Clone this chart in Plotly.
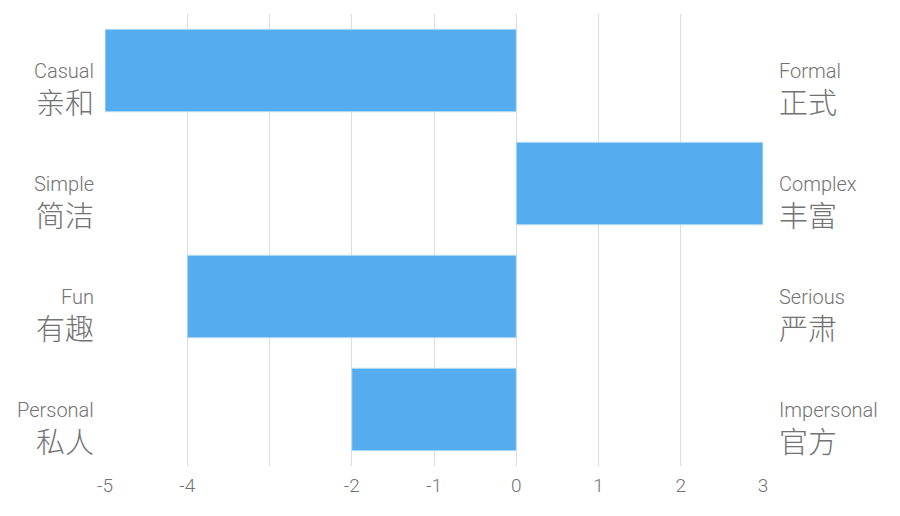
import plotly.graph_objects as go

categories = ["Casual", "Simple", "Fun", "Personal"]
left_en = ["Casual", "Simple", "Fun", "Personal"]
left_zh = ["亲和", "简洁", "有趣", "私人"]
right_en = ["Formal", "Complex", "Serious", "Impersonal"]
right_zh = ["正式", "丰富", "严肃", "官方"]
values = [-5, 3, -4, -2]
tick_vals = [-5, -4, -3, -2, -1, 0, 1, 2, 3]
tick_text = ["-5", "-4", "", "-2", "-1", "0", "1", "2", "3"]

FONT = "Roboto, 'Noto Sans CJK SC', sans-serif"
GREY = "#737373"

fig = go.Figure(go.Bar(
    x=values, y=categories, orientation="h",
    marker=dict(color="#55acee", line=dict(color="rgba(190,225,250,0.9)", width=1)),
    hoverinfo="skip",
))

ann = []
for i, c in enumerate(categories):
    ann.append(dict(x=0, xref="paper", y=c, yref="y", text=left_en[i], showarrow=False,
                    xanchor="right", yanchor="middle", xshift=-9,
                    font=dict(family=FONT, size=20, color=GREY, weight=300)))
    ann.append(dict(x=0, xref="paper", y=c, yref="y", text=left_zh[i], showarrow=False,
                    xanchor="right", yanchor="middle", xshift=-9, yshift=-33,
                    font=dict(family=FONT, size=29, color=GREY, weight=300)))
    ann.append(dict(x=1, xref="paper", y=c, yref="y", text=right_en[i], showarrow=False,
                    xanchor="left", yanchor="middle", xshift=14,
                    font=dict(family=FONT, size=20, color=GREY, weight=300)))
    ann.append(dict(x=1, xref="paper", y=c, yref="y", text=right_zh[i], showarrow=False,
                    xanchor="left", yanchor="middle", xshift=14, yshift=-33,
                    font=dict(family=FONT, size=29, color=GREY, weight=300)))

fig.update_layout(
    width=900, height=516,
    margin=dict(l=97, r=145, t=6, b=58),
    paper_bgcolor="white", plot_bgcolor="white",
    bargap=0.27,
    showlegend=False,
    annotations=ann,
    font=dict(family=FONT, color=GREY),
    xaxis=dict(range=[-5, 3], tickvals=tick_vals, ticktext=tick_text,
               showgrid=True, gridcolor="#dddddd", gridwidth=1, zeroline=False,
               showline=False, ticks="", ticklabelstandoff=6,
               tickfont=dict(family=FONT, size=19, color=GREY, weight=300)),
    yaxis=dict(autorange="reversed", showticklabels=False, showgrid=False,
               zeroline=False, showline=False, ticks=""),
)

fig.write_html("out.html")
